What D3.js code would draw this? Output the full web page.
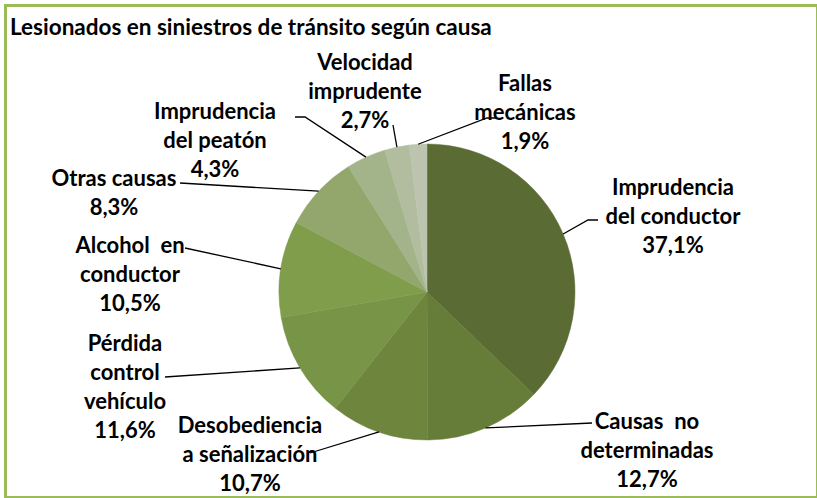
<!DOCTYPE html>
<html>
<head>
<meta charset="utf-8">
<script src="https://cdn.jsdelivr.net/npm/d3@7"></script>
<style>
  body { margin: 0; background: #fff; }
  svg { display: block; }
</style>
</head>
<body>
<script>
// data
var causas = [
  ["Imprudencia", "del conductor"],
  ["Causas  no", "determinadas"],
  ["Desobediencia", "a señalización"],
  ["Pérdida", "control", "vehículo"],
  ["Alcohol  en", "conductor"],
  ["Otras causas"],
  ["Imprudencia", "del peatón"],
  ["Velocidad", "imprudente"],
  ["Fallas", "mecánicas"]
];
var porcentajes = [37.1, 12.7, 10.7, 11.6, 10.5, 8.3, 4.3, 2.7, 1.9];
var colores = ["#5a6b33", "#667d3a", "#6e853e", "#789447", "#809d4c",
               "#93a66c", "#a3b48a", "#b1bd9e", "#bcc4b0"];

// label layout: text centre x, first line centre y, leader end point (on label side)
var etiquetas = [
  { x: 673, y: 187, lx: 598, ly: 220, kx: 588 },
  { x: 647, y: 421, lx: 592, ly: 423, kx: null },
  { x: 250, y: 425, lx: 310, ly: 453, kx: null },
  { x: 125, y: 343, lx: 165, ly: 377, kx: null },
  { x: 130, y: 245, lx: 185, ly: 248, kx: null },
  { x: 114, y: 178, lx: 180, ly: 183, kx: null },
  { x: 215, y: 111, lx: 295, ly: 117, kx: 305 },
  { x: 365, y: 62, lx: 393, ly: 125, kx: null },
  { x: 525, y: 83, lx: 497, ly: 118, kx: 487 }
];

var width = 817;
var height = 498;
var cx = 427, cy = 292, radius = 148;
var lineH = 29;

var svg = d3.select("body").append("svg")
    .attr("width", width)
    .attr("height", height)
    .style("font-family", "Lato, 'Open Sans', sans-serif");

svg.append("rect")
    .attr("x", 5.5).attr("y", 5.5)
    .attr("width", 812).attr("height", 492)
    .attr("fill", "#fff")
    .attr("stroke", "#9bbb59")
    .attr("stroke-width", 3);

svg.append("text")
    .attr("x", 10).attr("y", 35)
    .attr("font-size", 22.5)
    .attr("font-weight", "bold")
    .attr("fill", "#000")
    .text("Lesionados en siniestros de tránsito según causa");

var pie = d3.pie().sort(null).value(d => d);
var arcs = pie(porcentajes);
var arc = d3.arc().innerRadius(0).outerRadius(radius);

var g = svg.append("g").attr("transform", "translate(" + cx + "," + cy + ")");

g.selectAll("path")
    .data(arcs)
    .enter()
    .append("path")
    .attr("d", arc)
    .attr("fill", (d, i) => colores[i])
    .attr("stroke", (d, i) => colores[i])
    .attr("stroke-width", 0.5);

// leader lines
arcs.forEach(function(d, i) {
    var a = (d.startAngle + d.endAngle) / 2;
    var px = cx + radius * Math.sin(a);
    var py = cy - radius * Math.cos(a);
    var e = etiquetas[i];
    var pts = [[px, py]];
    if (e.kx != null) pts.push([e.kx, e.ly]);
    pts.push([e.lx, e.ly]);
    svg.append("path")
        .attr("d", d3.line()(pts))
        .attr("fill", "none")
        .attr("stroke", "#000")
        .attr("stroke-width", 1.3);
});

// labels
var fmt = v => v.toFixed(1).replace(".", ",") + "%";
etiquetas.forEach(function(e, i) {
    var lines = causas[i].concat([fmt(porcentajes[i])]);
    var t = svg.append("text")
        .attr("text-anchor", "middle")
        .attr("font-size", 22)
        .attr("font-weight", "bold")
        .attr("fill", "#000");
    lines.forEach(function(s, j) {
        t.append("tspan")
            .attr("x", e.x)
            .attr("y", e.y + j * lineH)
            .attr("dy", "0.35em")
            .attr("xml:space", "preserve")
            .text(s);
    });
});
</script>
</body>
</html>
